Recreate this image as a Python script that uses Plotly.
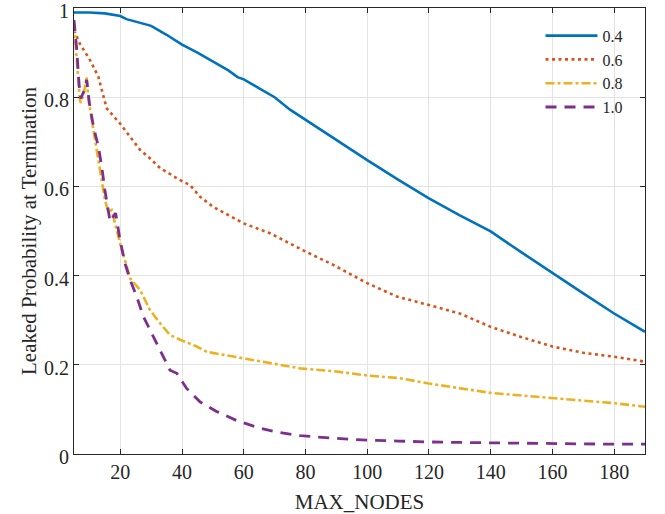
import plotly.graph_objects as go

# ---- data ----
x_04 = [5, 10, 15, 20, 22, 25, 30, 35, 40, 45, 50, 55, 58, 60, 65, 70, 75, 80, 90, 100,
        110, 120, 130, 140, 150, 160, 170, 180, 190]
y_04 = [0.99, 0.99, 0.988, 0.982, 0.975, 0.97, 0.96, 0.94, 0.918, 0.90, 0.88, 0.86, 0.845,
        0.84, 0.82, 0.80, 0.772, 0.749, 0.705, 0.659, 0.615, 0.573, 0.535, 0.499, 0.452,
        0.405, 0.36, 0.315, 0.274]

x_06 = [5, 6.9, 10.2, 12.9, 14, 15.6, 19.9, 23.2, 26.4, 29.6, 32.9, 39.4, 42.6, 45.8, 50.1,
        60, 68.5, 80, 89, 100, 109.6, 120, 130, 140, 149.6, 160, 170, 180, 190]
y_06 = [0.95, 0.92, 0.883, 0.846, 0.816, 0.775, 0.741, 0.711, 0.682, 0.663, 0.641, 0.614,
        0.603, 0.577, 0.554, 0.517, 0.495, 0.454, 0.424, 0.383, 0.353, 0.334, 0.315, 0.285,
        0.263, 0.241, 0.227, 0.218, 0.207]

x_08 = [5, 5.9, 6.9, 7.2, 8.2, 9.1, 9.6, 11.3, 13.4, 15, 16.1, 17.2, 19.9, 23.2, 26.4, 29.6,
        32.9, 36.1, 40.1, 44.8, 48, 60.2, 70.7, 78.3, 90, 100, 110.7, 120, 140, 160, 180, 190]
y_08 = [0.966, 0.883, 0.794, 0.787, 0.809, 0.846, 0.80, 0.726, 0.637, 0.570, 0.543, 0.547,
        0.473, 0.394, 0.368, 0.323, 0.293, 0.267, 0.254, 0.241, 0.229, 0.214, 0.202, 0.192,
        0.185, 0.176, 0.170, 0.158, 0.137, 0.125, 0.114, 0.106]

x_10 = [5, 5.9, 6.7, 7.2, 8.6, 9.1, 10, 11.3, 12.9, 14, 15, 16.1, 16.7, 17.7, 18.5, 19.9,
        21.5, 23.2, 25.3, 27.5, 30.7, 33.4, 36.1, 38.3, 41.5, 45.8, 51.3, 57.7, 64.2, 70.7,
        78.3, 90, 100, 110, 120, 140, 160, 180, 190]
y_10 = [0.973, 0.906, 0.824, 0.797, 0.82, 0.839, 0.786, 0.734, 0.689, 0.644, 0.592, 0.547,
        0.521, 0.532, 0.54, 0.48, 0.428, 0.39, 0.353, 0.308, 0.263, 0.226, 0.188, 0.181,
        0.147, 0.117, 0.095, 0.075, 0.06, 0.049, 0.041, 0.035, 0.031, 0.029, 0.027, 0.025,
        0.023, 0.022, 0.022]

names = ["0.4", "0.6", "0.8", "1.0"]
x_ticks = [20, 40, 60, 80, 100, 120, 140, 160, 180]
y_ticks = [0, 0.2, 0.4, 0.6, 0.8, 1]
y_ticktext = ["0", "0.2", "0.4", "0.6", "0.8", "1"]

series = [
    (x_04, y_04, names[0], "#0072BD", "solid", 2.6),
    (x_06, y_06, names[1], "#D95319", "3px,3.5px", 2.6),
    (x_08, y_08, names[2], "#EDB120", "9px,3px,3px,3px", 2.6),
    (x_10, y_10, names[3], "#7E2F8E", "11px,8px", 2.8),
]

fig = go.Figure()
for xs, ys, nm, col, dash, w in series:
    fig.add_trace(go.Scatter(x=xs, y=ys, name=nm, mode="lines",
                             line=dict(color=col, dash=dash, width=w)))

font_family = "Liberation Serif"
axis_common = dict(
    showgrid=True, gridcolor="#E3E3E3", gridwidth=1,
    showline=True, linecolor="#262626", linewidth=1.2, mirror="ticks",
    ticks="inside", ticklen=5, tickcolor="#262626", tickwidth=1,
    zeroline=False, ticklabeloverflow="allow", automargin=False,
    tickfont=dict(family=font_family, size=20, color="#262626"),
)

fig.update_layout(
    width=665, height=514,
    margin=dict(l=74, r=20, t=8, b=60),
    paper_bgcolor="white", plot_bgcolor="white",
    font=dict(family=font_family, color="#262626"),
    showlegend=True,
    legend=dict(x=0.817, y=0.976, xanchor="left", yanchor="top",
                bgcolor="rgba(0,0,0,0)", borderwidth=0,
                font=dict(family=font_family, size=16, color="#262626"),
                itemwidth=52, tracegroupgap=0),
    xaxis=dict(range=[5, 190], tickvals=x_ticks,
               title=dict(text="MAX_NODES", font=dict(family=font_family, size=21),
                          standoff=13),
               **axis_common),
    yaxis=dict(range=[0, 1], tickvals=y_ticks, ticktext=y_ticktext,
               ticklabelshift=3,
               title=dict(text="Leaked Probability at Termination",
                          font=dict(family=font_family, size=21), standoff=1),
               **axis_common),
)

fig.write_html("out.html", config={"displayModeBar": False},
               post_script="document.body.style.margin='0';")
